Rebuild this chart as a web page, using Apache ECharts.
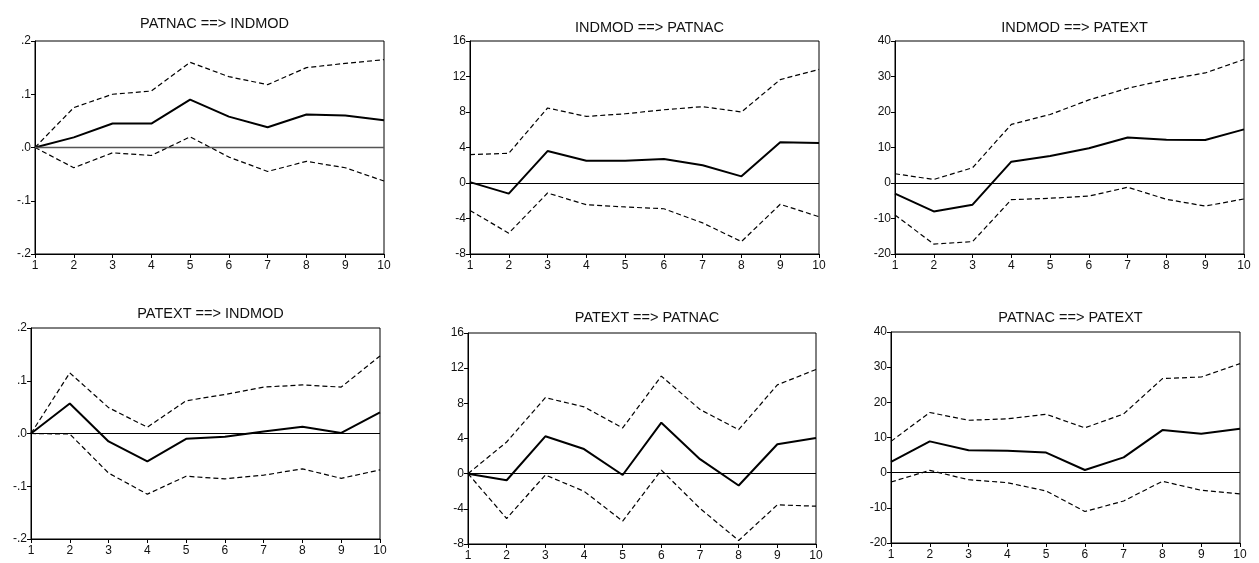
<!DOCTYPE html>
<html>
<head>
<meta charset="utf-8">
<script src="https://cdn.jsdelivr.net/npm/echarts@6/dist/echarts.min.js"></script>
<style>
html,body{margin:0;padding:0;background:#fff;}
#chart{width:1259px;height:563px;}
</style>
</head>
<body>
<div id="chart"></div>
<script>
// Horizon steps (x-axis categories)
const steps = ['1','2','3','4','5','6','7','8','9','10'];

// Panel titles
const titles = ['PATNAC ==> INDMOD','INDMOD ==> PATNAC','INDMOD ==> PATEXT',
                'PATEXT ==> INDMOD','PATEXT ==> PATNAC','PATNAC ==> PATEXT'];

// Panel 1: PATNAC ==> INDMOD
const p1Mid = [0, 0.019, 0.045, 0.045, 0.090, 0.058, 0.038, 0.062, 0.060, 0.051];
const p1Up  = [0, 0.075, 0.100, 0.106, 0.160, 0.133, 0.118, 0.150, 0.158, 0.165];
const p1Lo  = [0, -0.038, -0.010, -0.015, 0.020, -0.018, -0.045, -0.026, -0.038, -0.063];

// Panel 2: INDMOD ==> PATNAC
const p2Mid = [0.1, -1.2, 3.6, 2.5, 2.5, 2.7, 2.0, 0.75, 4.6, 4.5];
const p2Up  = [3.2, 3.35, 8.45, 7.5, 7.8, 8.25, 8.6, 8.0, 11.65, 12.8];
const p2Lo  = [-3.1, -5.65, -1.13, -2.45, -2.7, -2.9, -4.5, -6.6, -2.4, -3.8];

// Panel 3: INDMOD ==> PATEXT
const p3Mid = [-3.0, -8.0, -6.1, 6.0, 7.6, 9.8, 12.8, 12.2, 12.1, 15.1];
const p3Up  = [2.6, 1.0, 4.3, 16.5, 19.3, 23.4, 26.7, 29.1, 31.0, 34.8];
const p3Lo  = [-9.0, -17.2, -16.5, -4.7, -4.3, -3.7, -1.2, -4.6, -6.5, -4.5];

// Panel 4: PATEXT ==> INDMOD
const p4Mid = [0, 0.057, -0.015, -0.053, -0.010, -0.006, 0.004, 0.013, 0.001, 0.040];
const p4Up  = [0, 0.115, 0.049, 0.012, 0.062, 0.074, 0.088, 0.092, 0.088, 0.147];
const p4Lo  = [0, -0.001, -0.075, -0.115, -0.081, -0.086, -0.079, -0.067, -0.085, -0.069];

// Panel 5: PATEXT ==> PATNAC
const p5Mid = [0, -0.75, 4.25, 2.8, -0.15, 5.8, 1.65, -1.35, 3.35, 4.05];
const p5Up  = [0, 3.6, 8.65, 7.6, 5.2, 11.1, 7.3, 5.0, 10.1, 11.85];
const p5Lo  = [0, -5.1, -0.15, -2.0, -5.4, 0.4, -3.95, -7.6, -3.55, -3.7];

// Panel 6: PATNAC ==> PATEXT
const p6Mid = [3.1, 8.9, 6.4, 6.2, 5.7, 0.75, 4.35, 12.1, 11.05, 12.5];
const p6Up  = [8.9, 17.1, 14.9, 15.3, 16.6, 12.75, 16.7, 26.75, 27.2, 31.0];
const p6Lo  = [-2.65, 0.65, -2.0, -2.85, -5.2, -11.05, -8.05, -2.45, -5.0, -6.05];

// Y-axis scales per panel
const yMin = [-0.2, -8, -20, -0.2, -8, -20];
const yMax = [0.2, 16, 40, 0.2, 16, 40];
const yStep = [0.1, 4, 10, 0.1, 4, 10];

const panels = [
  [p1Mid, p1Up, p1Lo], [p2Mid, p2Up, p2Lo], [p3Mid, p3Up, p3Lo],
  [p4Mid, p4Up, p4Lo], [p5Mid, p5Up, p5Lo], [p6Mid, p6Up, p6Lo]
];

// layout (pixels)
const grids = [
  {left: 35, top: 41, width: 349, height: 213},
  {left: 470, top: 41, width: 349, height: 213},
  {left: 895, top: 41, width: 349, height: 213},
  {left: 31, top: 328, width: 349, height: 211},
  {left: 468, top: 333, width: 348, height: 211},
  {left: 891, top: 332, width: 349, height: 211}
];
const titleTop = [11, 15, 15, 301, 305, 305];

const FONT = '"Liberation Sans", Arial, sans-serif';

function decFmt(v) {
  const a = Math.abs(v).toFixed(1).replace(/^0/, '');
  return (v < -1e-9 ? '-' : '') + a;
}

const option = {
  animation: false,
  backgroundColor: '#fff',
  textStyle: {fontFamily: FONT},
  title: titles.map((t, i) => ({
    text: t,
    left: grids[i].left + grids[i].width / 2,
    top: titleTop[i],
    textAlign: 'center',
    textStyle: {fontSize: 14.5, fontWeight: 'normal', color: '#111', fontFamily: FONT}
  })),
  grid: grids.map(g => Object.assign({show: true, borderColor: '#000', borderWidth: 1, backgroundColor: 'transparent'}, g)),
  xAxis: grids.map((g, i) => ({
    type: 'category',
    gridIndex: i,
    data: steps,
    boundaryGap: false,
    axisLine: {show: true, onZero: false, lineStyle: {color: '#000', width: 1}},
    axisTick: {show: true, length: 4, inside: false, lineStyle: {color: '#000'}},
    axisLabel: {margin: 6, fontSize: 12, color: '#111', fontFamily: FONT, interval: 0},
    splitLine: {show: false}
  })),
  yAxis: grids.map((g, i) => ({
    type: 'value',
    gridIndex: i,
    min: yMin[i], max: yMax[i], interval: yStep[i],
    axisLine: {show: true, lineStyle: {color: '#000', width: 1}},
    axisTick: {show: true, length: 4, inside: false, lineStyle: {color: '#000'}},
    axisLabel: {
      margin: 4, fontSize: 12, color: '#111', fontFamily: FONT,
      formatter: (i === 0 || i === 3) ? decFmt : (v => String(Math.round(v)))
    },
    splitLine: {show: false}
  })),
  series: []
};

panels.forEach((p, i) => {
  option.series.push({
    type: 'line', xAxisIndex: i, yAxisIndex: i, data: p[0],
    symbol: 'none', lineStyle: {color: '#000', width: 2}, z: 4,
    markLine: {
      silent: true, symbol: ['none', 'none'], label: {show: false},
      lineStyle: {color: i === 0 ? '#555' : '#000', width: i === 0 ? 1.4 : 1, type: 'solid'},
      data: [{yAxis: 0}], animation: false
    }
  });
  option.series.push({
    type: 'line', xAxisIndex: i, yAxisIndex: i, data: p[1],
    symbol: 'none', lineStyle: {color: '#000', width: 1.2, type: [5, 3]}, z: 3
  });
  option.series.push({
    type: 'line', xAxisIndex: i, yAxisIndex: i, data: p[2],
    symbol: 'none', lineStyle: {color: '#000', width: 1.2, type: [5, 3]}, z: 3
  });
});

const chart = echarts.init(document.getElementById('chart'), null, {renderer: 'canvas'});
chart.setOption(option);
</script>
</body>
</html>
